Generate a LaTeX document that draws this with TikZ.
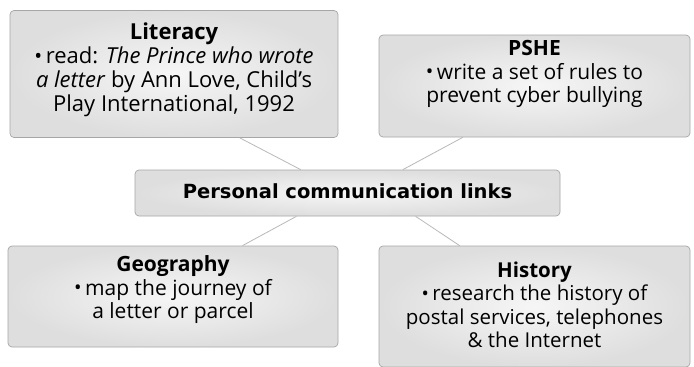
\documentclass[tikz,border=0pt]{standalone}
\usepackage{fontspec}
\setmainfont{Open Sans}
\newfontfamily\centerfont{DejaVu Sans}
\usetikzlibrary{calc}
\tikzset{
  box/.style={draw=gray!70, line width=0.7pt, rounded corners=4pt,
    inner color=gray!7, outer color=gray!26, inner sep=0pt},
  boxtext/.style={align=center, font=\fontsize{20.5}{23.5}\selectfont, inner sep=0pt},
  link/.style={draw=gray!55, line width=0.8pt}
}
\newcommand{\bul}{\raisebox{0.05ex}{\scalebox{0.95}{\textbullet}}\,}
\begin{document}
\begin{tikzpicture}[x=1pt,y=-1pt]
\useasboundingbox[fill=white] (0,0) rectangle (694,367);
% boxes
\node[box, minimum width=328pt, minimum height=127pt] (lit) at (174,74) {};
\node[box, minimum width=311pt, minimum height=102pt] (pshe) at (534.5,86) {};
\node[box, minimum width=425pt, minimum height=46pt] (pcl) at (347.5,193) {};
\node[box, minimum width=330pt, minimum height=101pt] (geo) at (173,296.5) {};
\node[box, minimum width=311pt, minimum height=121pt] (his) at (534.5,306.5) {};
% connectors
\draw[link] ($(lit.south west)!0.70!(lit.south east)$) -- ($(pcl.north west)!0.39!(pcl.north east)$);
\draw[link] ($(pshe.south west)!0.27!(pshe.south east)$) -- ($(pcl.north west)!0.63!(pcl.north east)$);
\draw[link] ($(geo.north west)!0.71!(geo.north east)$) -- ($(pcl.south west)!0.38!(pcl.south east)$);
\draw[link] ($(his.north west)!0.26!(his.north east)$) -- ($(pcl.south west)!0.66!(pcl.south east)$);
% texts
\node[boxtext, font=\fontsize{22}{24}\selectfont] (litt) at (174,70) {\textbf{Literacy}\\ \bul read: \textit{The Prince who wrote}\\ \textit{a letter} by Ann Love, Child’s\\ Play International, 1992};
\node[boxtext, font=\fontsize{21}{23.5}\selectfont] (psht) at (534.5,74) {\textbf{PSHE}\\ \bul write a set of rules to\\ prevent cyber bullying};
\node[boxtext, font=\centerfont\bfseries\fontsize{19.5}{22}\selectfont] (pclt) at (347.5,191) {Personal communication links};
\node[boxtext, font=\fontsize{21}{23.5}\selectfont] (geot) at (173,290) {\textbf{Geography}\\ \bul map the journey of\\ a letter or parcel};
\node[boxtext] (hist) at (534.5,305) {\textbf{History}\\ \bul research the history of\\ postal services, telephones\\ \& the Internet};
\end{tikzpicture}
\end{document}
